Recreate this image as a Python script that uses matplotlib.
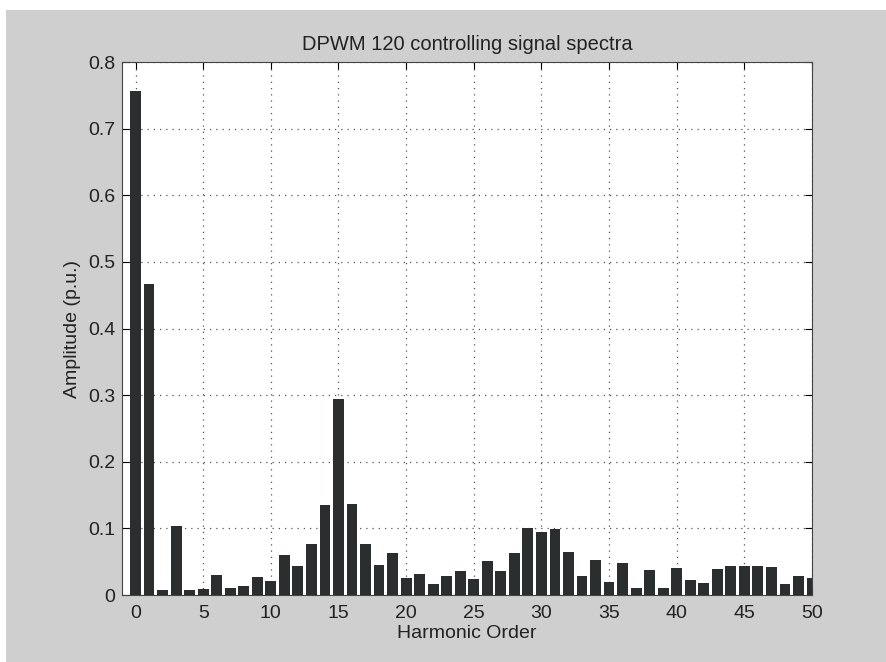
import matplotlib.pyplot as plt
import numpy as np
from matplotlib.patches import Rectangle

plt.rcParams['font.family'] = ['Liberation Sans', 'DejaVu Sans']

# harmonic order 0..50 and amplitude
harmonic = np.arange(0, 51)
amplitude = [0.757, 0.467, 0.007, 0.103, 0.007, 0.009, 0.030, 0.011, 0.013, 0.027,
             0.021, 0.060, 0.044, 0.077, 0.135, 0.294, 0.137, 0.077, 0.045, 0.063,
             0.026, 0.031, 0.016, 0.028, 0.036, 0.024, 0.051, 0.036, 0.063, 0.101,
             0.094, 0.099, 0.064, 0.029, 0.052, 0.020, 0.048, 0.010, 0.037, 0.010,
             0.041, 0.023, 0.018, 0.039, 0.044, 0.044, 0.044, 0.042, 0.016, 0.028,
             0.026]

xticks = [0, 5, 10, 15, 20, 25, 30, 35, 40, 45, 50]
yticks = [0, 0.1, 0.2, 0.3, 0.4, 0.5, 0.6, 0.7, 0.8]
ytick_labels = ['0', '0.1', '0.2', '0.3', '0.4', '0.5', '0.6', '0.7', '0.8']

fig = plt.figure(figsize=(8.86, 6.62), dpi=100, facecolor='#cfcfcf')

# white scan margins along the top and left edges
fig.patches.append(Rectangle((0, 1 - 10 / 662), 1, 10 / 662, transform=fig.transFigure,
                             facecolor='white', edgecolor='none', zorder=-1))
fig.patches.append(Rectangle((0, 0), 6 / 886, 1, transform=fig.transFigure,
                             facecolor='white', edgecolor='none', zorder=-1))

ax = fig.add_axes([0.1377, 0.1012, 0.7788, 0.8051])
ax.set_facecolor('white')

ax.bar(harmonic, amplitude, width=0.8, color='#2a2e2e', zorder=3)

ax.set_xlim(-1, 50)
ax.set_ylim(0, 0.8)
ax.set_xticks(xticks)
ax.set_yticks(yticks)
ax.set_yticklabels(ytick_labels)
ax.tick_params(direction='in', top=True, right=True, labelsize=14, length=5, pad=5,
               labelcolor='#222222')
ax.tick_params(axis='x', pad=7)
ax.grid(True, linestyle=(0, (1, 4)), color='#555555', linewidth=0.9, zorder=0)
for s in ax.spines.values():
    s.set_color('#444444')

ax.set_title('DPWM 120 controlling signal spectra', fontsize=14.5, pad=9, color='#222222')
ax.set_xlabel('Harmonic Order', fontsize=14, labelpad=2, color='#222222')
ax.set_ylabel('Amplitude (p.u.)', fontsize=14, labelpad=5, color='#222222')

fig.savefig('out.png', dpi=100, facecolor=fig.get_facecolor())
